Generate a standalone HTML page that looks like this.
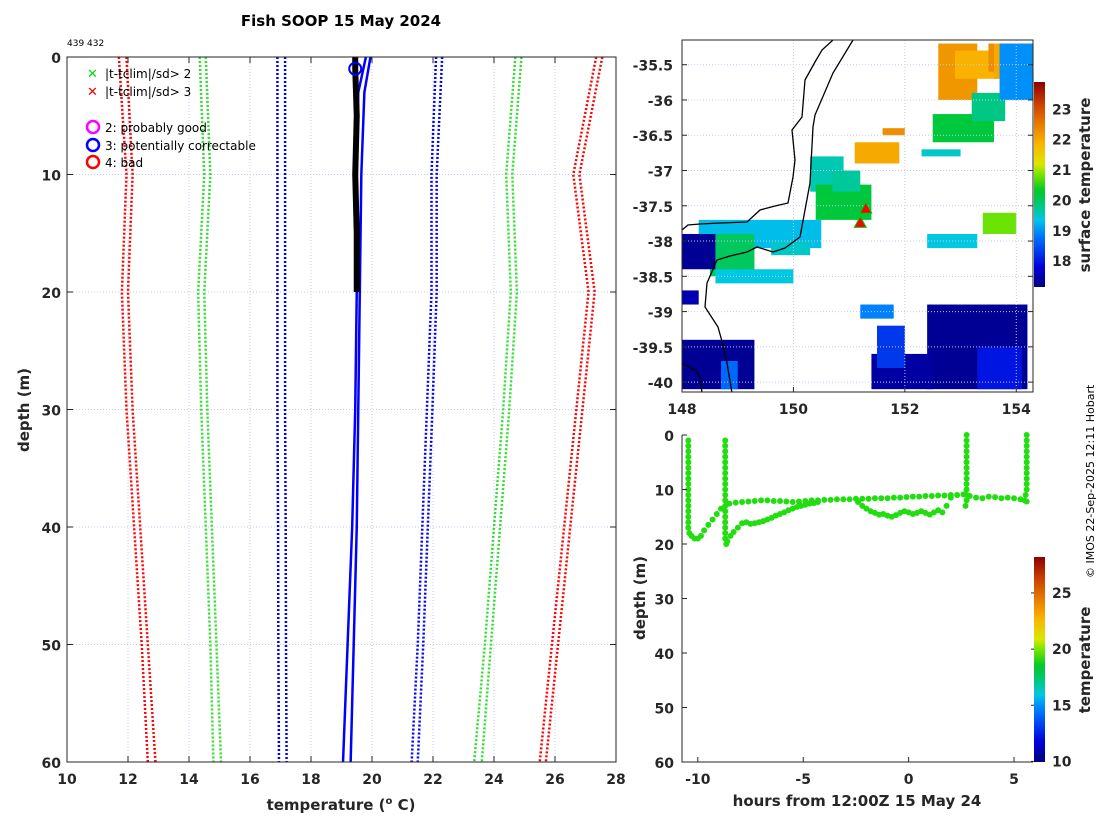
<!DOCTYPE html>
<html><head><meta charset="utf-8">
<style>
body{margin:0;background:#fff;}
svg{display:block;font-family:"DejaVu Sans","Liberation Sans",sans-serif;}
.tk{font-size:14px;font-weight:bold;fill:#262626;}
.lab{font-size:15px;font-weight:bold;fill:#262626;}
</style></head>
<body>
<svg id="fig" width="1100" height="820" viewBox="0 0 1100 820">
<text x="341" y="26" text-anchor="middle" font-size="15" font-weight="bold" fill="#000">Fish SOOP 15 May 2024</text>
<text x="67" y="46" font-size="9" fill="#000">439 432</text>
<g id="left"></g>
<g id="map"></g>
<g id="sect"></g>
<text transform="translate(1094,578) rotate(-90)" font-size="11" fill="#000">© IMOS 22-Sep-2025 12:11 Hobart</text>
</svg>
<script>
// ---------- profile plot data ----------
const climDepths=[0,10,20,30,40,50,60];
const redLowA=[11.7,11.95,11.8,11.95,12.2,12.45,12.65];
const redLowB=[11.95,12.15,12.0,12.15,12.4,12.65,12.9];
const greenLowA=[14.35,14.5,14.3,14.4,14.55,14.7,14.8];
const greenLowB=[14.55,14.7,14.5,14.6,14.75,14.9,15.05];
const blueLowA=[16.9,16.9,16.9,16.9,16.92,16.93,16.95];
const blueLowB=[17.15,17.15,17.15,17.15,17.17,17.18,17.2];
const blueHighA=[22.1,21.95,21.95,21.8,21.65,21.5,21.3];
const blueHighB=[22.3,22.12,22.12,21.98,21.83,21.68,21.5];
const greenHighA=[24.7,24.4,24.55,24.3,24.0,23.7,23.35];
const greenHighB=[24.9,24.6,24.75,24.5,24.2,23.9,23.6];
const redHighA=[27.35,26.6,27.1,26.7,26.3,25.9,25.5];
const redHighB=[27.55,26.8,27.3,26.9,26.5,26.1,25.7];
const profDepths=[0,1,5,10,15,20];
const profTemps=[19.45,19.45,19.5,19.45,19.5,19.5];
const blueSolidDepths=[0,3,10,20,30,40,50,60];
const blueSolidA=[19.8,19.55,19.5,19.5,19.45,19.35,19.2,19.05];
const blueSolidB=[19.95,19.75,19.65,19.6,19.55,19.5,19.4,19.3];
const flagT=[19.45], flagD=[1];
const tempTicks=[10,12,14,16,18,20,22,24,26,28];
const depthTicks=[0,10,20,30,40,50,60];

// ---------- map data ----------
const lonTicks=[148,150,152,154];
const latTicks=[-35.5,-36,-36.5,-37,-37.5,-38,-38.5,-39,-39.5,-40];
const sstTicks=[18,19,20,21,22,23];
// patches: lon range, lat range, sst
const patchLon0=[152.6,152.9,153.5,153.6,152.5,153.2,153.7,151.1,151.6,150.3,150.4,148.3,148.5,149.6,148.6,148.0,148.0,148.7,152.4,153.3,151.4,151.5,151.2,152.4,153.4,152.3,150.7,148.0];
const patchLon1=[153.3,153.7,153.9,153.9,153.6,153.8,154.3,151.9,152.0,150.9,151.4,150.5,149.3,150.3,150.0,148.6,149.3,149.0,154.2,154.1,152.5,152.0,151.8,153.3,154.0,153.0,151.2,148.3];
const patchLat0=[-35.2,-35.3,-35.2,-35.2,-36.2,-35.9,-35.2,-36.6,-36.4,-36.8,-37.2,-37.7,-37.9,-38.0,-38.4,-37.9,-39.4,-39.7,-38.9,-39.5,-39.6,-39.2,-38.9,-37.9,-37.6,-36.7,-37.0,-38.7];
const patchLat1=[-36.0,-35.7,-35.6,-35.7,-36.6,-36.3,-36.0,-36.9,-36.5,-37.3,-37.7,-38.1,-38.5,-38.2,-38.6,-38.4,-40.1,-40.1,-40.1,-40.1,-40.1,-39.8,-39.1,-38.1,-37.9,-36.8,-37.3,-38.9];
const patchSst=[22.2,21.9,22.3,22.0,20.2,19.8,19.0,22.0,22.3,19.6,20.2,19.3,20.0,19.5,19.4,17.3,17.3,18.7,17.3,18.0,17.4,18.3,18.9,19.4,20.8,19.5,19.7,17.5];
const shipLon=[151.2,151.3];
const shipLat=[-37.75,-37.55];

// ---------- section data ----------
const hourTicks=[-10,-5,0,5];
const secDepthTicks=[0,10,20,30,40,50,60];
const colTicks=[10,15,20,25];
const ptHours=[
-10.45,-10.45,-10.45,-10.45,-10.45,-10.45,-10.45,-10.45,-10.45,-10.45,-10.45,-10.45,-10.45,-10.45,-10.45,-10.45,-10.45,-10.4,
-10.3,-10.15,-10.0,-9.85,-9.7,-9.5,-9.3,-9.1,-8.9,
-8.7,-8.7,-8.7,-8.7,-8.7,-8.7,-8.7,-8.7,-8.7,-8.7,-8.7,-8.7,-8.7,-8.7,-8.7,-8.7,-8.7,-8.7,-8.7,-8.65,
-8.5,-8.2,-7.9,-7.6,-7.3,-7.0,-6.7,-6.4,-6.1,-5.8,-5.5,-5.2,-4.9,-4.6,-4.3,-4.0,-3.7,-3.4,-3.1,-2.8,-2.5,-2.2,-1.9,-1.6,-1.3,-1.0,-0.7,-0.4,-0.1,0.2,0.5,0.8,1.1,1.4,1.7,2.0,2.3,2.6,2.9,3.2,3.5,3.8,4.1,4.4,4.7,5.0,5.3,5.6,
-8.6,-8.45,-8.3,-8.1,-7.9,-7.7,-7.5,-7.3,-7.1,-6.9,-6.7,-6.5,-6.3,-6.1,-5.9,-5.7,-5.5,-5.3,-5.1,-4.9,-4.7,-4.5,-4.3,
-2.4,-2.2,-2.0,-1.8,-1.6,-1.4,-1.2,-1.0,-0.8,-0.6,-0.4,-0.2,0.0,0.2,0.4,0.6,0.8,1.0,1.2,1.4,1.6,1.8,2.0,
2.75,2.75,2.75,2.75,2.75,2.75,2.75,2.75,2.75,2.75,2.75,2.75,2.75,2.7,
5.6,5.6,5.6,5.6,5.6,5.6,5.6,5.6,5.6,5.6,5.6,5.55,5.5];
const ptDepths=[
1,2,3,4,5,6,7,8,9,10,11,12,13,14,15,16,17,18,
18.5,19,19,18.5,17.5,16.5,15.5,14.5,13.5,
1,2,3,4,5,6,7,8,9,10,11,12,13,14,15,16,17,18,19,20,
12.6,12.4,12.3,12.2,12.1,12.0,12.0,12.1,12.1,12.2,12.3,12.2,12.1,12.0,12.0,11.9,11.9,11.8,11.8,11.8,11.7,11.7,11.7,11.6,11.6,11.6,11.5,11.5,11.4,11.3,11.3,11.2,11.2,11.1,11.1,11.0,11.0,10.9,11.2,11.5,11.6,11.3,11.4,11.6,11.5,11.6,11.8,12.2,
19.5,18.5,17.8,17.0,16.2,16.0,16.3,16.2,16.0,15.8,15.5,15.2,14.8,14.5,14.2,13.8,13.5,13.2,13.0,12.8,12.6,12.5,12.3,
12.3,13.0,13.5,14.0,14.3,14.6,14.5,14.8,15.0,14.7,14.3,14.0,14.2,14.5,14.3,14.0,14.3,14.6,14.2,13.8,14.2,13.0,11.5,
0,1,2,3,4,5,6,7,8,9,10,11,12,13,
0,1,2,3,4,5,6,7,8,9,10,11,12];

// ---------- helpers ----------
const NS='http://www.w3.org/2000/svg';
function mk(parent,tag,attrs){const e=document.createElementNS(NS,tag);for(const k in attrs)e.setAttribute(k,attrs[k]);parent.appendChild(e);return e;}
const STOPS=[[0,[0,0,128]],[0.1,[0,0,220]],[0.25,[0,120,255]],[0.33,[0,200,230]],[0.4,[0,200,120]],[0.47,[0,200,40]],[0.55,[120,230,0]],[0.6,[220,230,0]],[0.7,[250,180,0]],[0.8,[230,120,0]],[0.9,[200,60,0]],[1,[140,0,0]]];
function jet(t){
  t=Math.max(0,Math.min(1,t));
  for(let i=1;i<STOPS.length;i++){if(t<=STOPS[i][0]){const a=STOPS[i-1],b=STOPS[i];const f=(t-a[0])/(b[0]-a[0]);const c=a[1].map((v,j)=>Math.round(v+(b[1][j]-v)*f));return `rgb(${c})`;}}
  return 'rgb(140,0,0)';
}
function gradient(id){const defs=mk(document.getElementById('fig'),'defs',{});
  const g=mk(defs,'linearGradient',{id:id,x1:0,y1:1,x2:0,y2:0});
  for(let i=0;i<=40;i++)mk(g,'stop',{offset:i/40,'stop-color':jet(i/40)});}

// ---------- left profile plot ----------
const L={x0:67,x1:616,y0:57,y1:762};
const tx=t=>L.x0+(t-10)/(28-10)*(L.x1-L.x0);
const dy=d=>L.y0+d/60*(L.y1-L.y0);
const left=document.getElementById('left');
tempTicks.forEach((t,i)=>{
  if(i>0&&i<tempTicks.length-1){const gl=mk(left,'line',{x1:tx(t),x2:tx(t),y1:L.y0,y2:L.y1,stroke:'#c9c9ee','stroke-width':1,'stroke-dasharray':'1,2'});
  }
  mk(left,'line',{x1:tx(t),x2:tx(t),y1:L.y1,y2:L.y1-6,stroke:'#262626'});
  mk(left,'line',{x1:tx(t),x2:tx(t),y1:L.y0,y2:L.y0+6,stroke:'#262626'});
  const lb=mk(left,'text',{x:tx(t),y:L.y1+22,'text-anchor':'middle',class:'tk'});lb.textContent=t;
  
});
depthTicks.forEach((d,i)=>{
  if(i>0&&i<depthTicks.length-1){const gl=mk(left,'line',{x1:L.x0,x2:L.x1,y1:dy(d),y2:dy(d),stroke:'#c9c9ee','stroke-width':1,'stroke-dasharray':'1,2'});
  }
  mk(left,'line',{x1:L.x0,x2:L.x0+6,y1:dy(d),y2:dy(d),stroke:'#262626'});
  mk(left,'line',{x1:L.x1,x2:L.x1-6,y1:dy(d),y2:dy(d),stroke:'#262626'});
  const lb=mk(left,'text',{x:L.x0-6,y:dy(d)+6,'text-anchor':'end',class:'tk'});lb.textContent=d;
  
});
function profLine(temps,depths,color,dash,w,name){
  const pts=temps.map((t,i)=>tx(t)+','+dy(depths[i])).join(' ');
  const p=mk(left,'polyline',{points:pts,fill:'none',stroke:color,'stroke-width':w,'stroke-dasharray':dash});
  }
[[redLowA,'#f00'],[redLowB,'#f00'],[greenLowA,'#2ee02e'],[greenLowB,'#2ee02e'],[blueLowA,'#00f'],[blueLowB,'#00f'],
 [blueHighA,'#00f'],[blueHighB,'#00f'],[greenHighA,'#2ee02e'],[greenHighB,'#2ee02e'],[redHighA,'#f00'],[redHighB,'#f00']]
 .forEach(([a,c])=>profLine(a,climDepths,c,'2,2',2.5,'climatology-line'));
profLine(blueSolidA,blueSolidDepths,'#00f','none',2.5,'profile-blue-line');
profLine(blueSolidB,blueSolidDepths,'#00f','none',2.5,'profile-blue-line');
profLine(profTemps,profDepths,'#000','none',6,'temperature-profile');
flagT.forEach((t,i)=>{const c=mk(left,'circle',{cx:tx(t),cy:dy(flagD[i]),r:6,fill:'none',stroke:'#00f','stroke-width':2});
  });
const fr=mk(left,'rect',{x:L.x0,y:L.y0,width:L.x1-L.x0,height:L.y1-L.y0,fill:'none',stroke:'#262626','stroke-width':1});

// legend
const lg=mk(left,'g',{});

[['✕','#0d0','|t-tclim|/sd> 2',73],['✕','#e00','|t-tclim|/sd> 3',91]].forEach(([s,c,t,y])=>{
  const m=mk(lg,'text',{x:87,y:y+5,'font-size':13,'font-weight':'bold',fill:c});m.textContent=s;
  const tt=mk(lg,'text',{x:105,y:y+5,'font-size':12,fill:'#000'});tt.textContent=t;
  });
[['#f0f','2: probably good',127],['#00f','3: potentially correctable',145],['#f00','4: bad',162]].forEach(([c,t,y])=>{
  mk(lg,'circle',{cx:93,cy:y,r:6,fill:'none',stroke:c,'stroke-width':2.5});
  const tt=mk(lg,'text',{x:105,y:y+5,'font-size':12,fill:'#000'});tt.textContent=t;
  });
const xl=mk(left,'text',{x:341,y:810,'text-anchor':'middle',class:'lab'});xl.innerHTML='temperature (<tspan dy="-6" font-size="10">o</tspan><tspan dy="6"> C)</tspan>';

const yl=mk(left,'text',{transform:'translate(29,410) rotate(-90)','text-anchor':'middle',class:'lab'});yl.textContent='depth (m)';


// ---------- map ----------
const M={x0:682,x1:1033,y0:40,y1:392,lon0:148,lon1:154.3,lat0:-35.15,lat1:-40.14};
const mx=l=>M.x0+(l-M.lon0)/(M.lon1-M.lon0)*(M.x1-M.x0);
const my=l=>M.y0+(l-M.lat0)/(M.lat1-M.lat0)*(M.y1-M.y0);
const map=document.getElementById('map');
const cp=mk(map,'clipPath',{id:'mclip'});
mk(cp,'rect',{x:M.x0,y:M.y0,width:M.x1-M.x0,height:M.y1-M.y0});
const mg=mk(map,'g',{'clip-path':'url(#mclip)'});
const sstc=v=>jet((v-17.15)/(23.9-17.15));
patchLon0.forEach((l0,i)=>{
  const r=mk(mg,'rect',{x:mx(l0),y:my(patchLat0[i]),width:mx(patchLon1[i])-mx(l0),height:my(patchLat1[i])-my(patchLat0[i]),fill:sstc(patchSst[i])});
  });
lonTicks.forEach(l=>{mk(mg,'line',{x1:mx(l),x2:mx(l),y1:M.y0,y2:M.y1,stroke:'#c9c9ee','stroke-dasharray':'1,2'});
  mk(map,'line',{x1:mx(l),x2:mx(l),y1:M.y1,y2:M.y1-5,stroke:'#262626'});
  const t=mk(map,'text',{x:mx(l),y:M.y1+22,'text-anchor':'middle',class:'tk'});t.textContent=l;
  });
latTicks.forEach(l=>{mk(mg,'line',{x1:M.x0,x2:M.x1,y1:my(l),y2:my(l),stroke:'#c9c9ee','stroke-dasharray':'1,2'});
  mk(map,'line',{x1:M.x0,x2:M.x0+5,y1:my(l),y2:my(l),stroke:'#262626'});
  mk(map,'line',{x1:M.x1,x2:M.x1-5,y1:my(l),y2:my(l),stroke:'#262626'});
  const t=mk(map,'text',{x:M.x0-9,y:my(l)+6,'text-anchor':'end',class:'tk'});t.textContent=l;
  });
const c1=mk(mg,'path',{d:'M833,40 L822,50 L815,62 L805,80 L802,117 L792,130 L795,160 L793,177 L788,203 L775,206 L760,210 L747,222 L720,223 L700,224 L688,225 L682,230',fill:'none',stroke:'#000','stroke-width':1.3});

const c2=mk(mg,'path',{d:'M853,40 L833,73 L815,115 L813,127 L810,183 L800,237 L785,248 L773,252 L757,247 L747,252 L730,256 L717,260 L707,283 L705,307 L718,327 L723,345 L727,363 L732,393',fill:'none',stroke:'#000','stroke-width':1.3});

mk(mg,'path',{d:'M682,363 L695,370 L700,377 L702,393',fill:'none',stroke:'#000','stroke-width':1.3});
shipLon.forEach((l,i)=>{const x=mx(l),y=my(shipLat[i]);
  const t=mk(mg,'polygon',{points:`${x},${y-7} ${x-6},${y+4} ${x+6},${y+4}`,fill:'#f00',stroke:'#0c0','stroke-width':1});
  });
mk(map,'rect',{x:M.x0,y:M.y0,width:M.x1-M.x0,height:M.y1-M.y0,fill:'none',stroke:'#262626'});
gradient('cbg');
const CB={x:1034,w:11,y0:82,y1:287,v0:17.15,v1:23.9};
const cb=mk(map,'rect',{x:CB.x,y:CB.y0,width:CB.w,height:CB.y1-CB.y0,fill:'url(#cbg)'});

sstTicks.forEach(v=>{const y=CB.y1-(v-CB.v0)/(CB.v1-CB.v0)*(CB.y1-CB.y0);
  const t=mk(map,'text',{x:1052,y:y+5,class:'tk'});t.textContent=v;
  });
const ct=mk(map,'text',{transform:'translate(1090,185) rotate(-90)','text-anchor':'middle',class:'lab'});ct.textContent='surface temperature';


// ---------- section ----------
const S={x0:682,x1:1033,y0:435,y1:762,h0:-10.75,h1:5.9};
const hx=h=>S.x0+(h-S.h0)/(S.h1-S.h0)*(S.x1-S.x0);
const sy=d=>S.y0+d/60*(S.y1-S.y0);
const sect=document.getElementById('sect');
ptHours.forEach((h,i)=>{const c=mk(sect,'circle',{cx:hx(h),cy:sy(ptDepths[i]),r:3,fill:'#22dd10'});
  });
mk(sect,'polyline',{points:`${S.x0},${S.y0} ${S.x0},${S.y1} ${S.x1},${S.y1}`,fill:'none',stroke:'#262626'});
hourTicks.forEach(h=>{mk(sect,'line',{x1:hx(h),x2:hx(h),y1:S.y1,y2:S.y1-5,stroke:'#262626'});
  const t=mk(sect,'text',{x:hx(h),y:S.y1+22,'text-anchor':'middle',class:'tk'});t.textContent=h;
  });
secDepthTicks.forEach(d=>{mk(sect,'line',{x1:S.x0,x2:S.x0+5,y1:sy(d),y2:sy(d),stroke:'#262626'});
  const t=mk(sect,'text',{x:S.x0-8,y:sy(d)+6,'text-anchor':'end',class:'tk'});t.textContent=d;
  });
const sx=mk(sect,'text',{x:857,y:806,'text-anchor':'middle',class:'lab'});sx.textContent='hours from 12:00Z 15 May 24';

const syl=mk(sect,'text',{transform:'translate(645,598) rotate(-90)','text-anchor':'middle',class:'lab'});syl.textContent='depth (m)';

const CB2={x:1034,w:11,y0:557,y1:762,v0:9.95,v1:28.2};
const cb2=mk(sect,'rect',{x:CB2.x,y:CB2.y0,width:CB2.w,height:CB2.y1-CB2.y0,fill:'url(#cbg)'});

colTicks.forEach(v=>{const y=CB2.y1-(v-CB2.v0)/(CB2.v1-CB2.v0)*(CB2.y1-CB2.y0);
  mk(sect,'line',{x1:CB2.x-3,x2:CB2.x,y1:y,y2:y,stroke:'#262626'});
  const t=mk(sect,'text',{x:1052,y:y+5,class:'tk'});t.textContent=v;
  });
const ct2=mk(sect,'text',{transform:'translate(1090,660) rotate(-90)','text-anchor':'middle',class:'lab'});ct2.textContent='temperature';

</script>
</body></html>
